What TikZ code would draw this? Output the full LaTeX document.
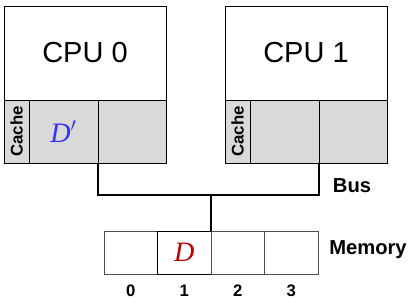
\documentclass[tikz,border=0pt]{standalone}
\usepackage{fontspec}
\setmainfont{Liberation Sans}
\newfontfamily\serifit{Liberation Serif}
\usetikzlibrary{positioning}
\definecolor{cachegray}{HTML}{D9D9D9}
\definecolor{dblue}{HTML}{3333FF}
\definecolor{dred}{HTML}{C00000}

\begin{document}
\begin{tikzpicture}[
  x=0.02cm, y=0.02cm,
  cpubox/.style={draw, fill=white, inner sep=0pt, outer sep=0pt, minimum width=3.24cm, minimum height=1.88cm, font=\fontsize{16.5}{18}\selectfont},
  cachelbl/.style={draw, fill=cachegray, inner sep=0pt, outer sep=0pt, minimum width=0.5cm, minimum height=1.26cm},
  cachecell/.style={draw, fill=cachegray, inner sep=0pt, outer sep=0pt, minimum width=#1, minimum height=1.26cm},
  memcell/.style={draw=black!70, inner sep=0pt, outer sep=0pt, minimum width=1.07cm, minimum height=0.86cm},
  bus/.style={line width=1.6pt},
  lbl/.style={font=\bfseries\fontsize{11.5}{13}\selectfont},
  var/.style={font=\serifit\itshape\fontsize{16}{18}\selectfont}
]
  \useasboundingbox (0,0) rectangle (417,303);
  % processors
  \node[cpubox] (cpu0) at (85,250) {CPU 0};
  \node[cpubox] (cpu1) at (306,250) {CPU 1};
  % caches
  \node[cachelbl, anchor=north west] (c0l) at (cpu0.south west) {\rotatebox{90}{\bfseries\fontsize{9.6}{11}\selectfont Cache}};
  \node[cachecell=1.38cm, right=0pt of c0l, var, text=dblue] (c0a) {D$'$};
  \node[cachecell=1.36cm, right=0pt of c0a] (c0b) {};
  \node[cachelbl, anchor=north west] (c1l) at (cpu1.south west) {\rotatebox{90}{\bfseries\fontsize{9.6}{11}\selectfont Cache}};
  \node[cachecell=1.38cm, right=0pt of c1l] (c1a) {};
  \node[cachecell=1.36cm, right=0pt of c1a] (c1b) {};
  % memory
  \node[memcell] (m0) at (130.75,50.5) {};
  \node[memcell, draw=black, right=0pt of m0, var, text=dred] (m1) {D};
  \node[memcell, right=0pt of m1] (m2) {};
  \node[memcell, right=0pt of m2] (m3) {};
  \foreach \i in {0,...,3}{
    \node[font=\bfseries\fontsize{9.5}{11}\selectfont] (n\i) at ([yshift=-0.34cm]m\i.south) {\i};
  }
  % bus
  \coordinate (bl) at (c0a.south east |- 0,108);
  \coordinate (br) at (c1a.south east |- 0,108);
  \coordinate (bm) at (m1.north east |- 0,108);
  \draw[bus] (c0a.south east) -- (bl) -- (br) -- (c1a.south east);
  \draw[bus] (bm) -- (m1.north east);
  \node[lbl] (buslbl) at (352,117) {Bus};
  \node[lbl] (memlbl) at (368,53) {Memory};
\end{tikzpicture}
\end{document}
